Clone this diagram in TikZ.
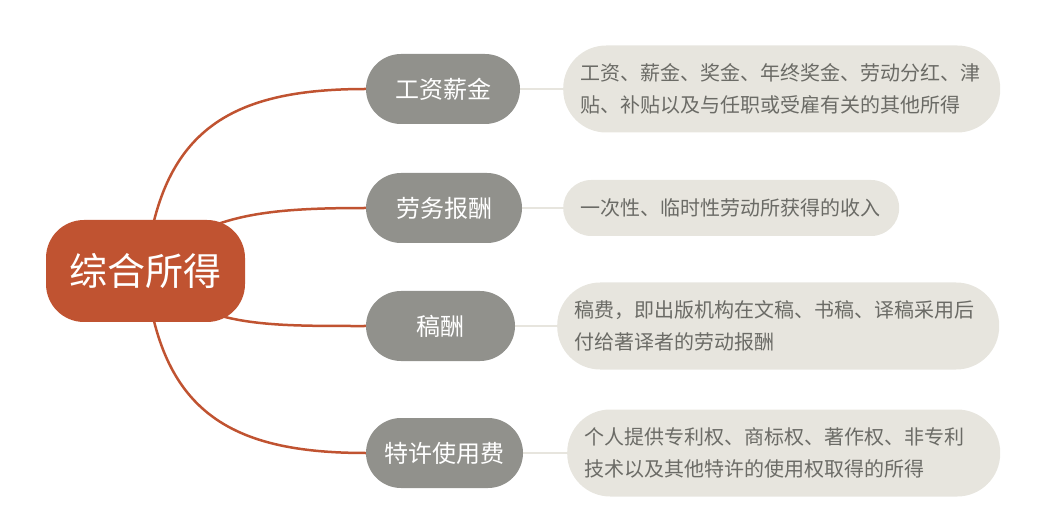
\documentclass[tikz,border=0pt]{standalone}
\usepackage{fontspec}
\setmainfont{Noto Sans CJK SC}
\usetikzlibrary{positioning, backgrounds}
\definecolor{crust}{HTML}{C05331}
\definecolor{cstone}{HTML}{91918C}
\definecolor{csand}{HTML}{E7E5DE}
\definecolor{cink}{HTML}{6B6B66}
\tikzset{
  hub/.style={fill=crust, text=white, rounded corners=38pt, minimum width=199pt, minimum height=102pt, font=\fontsize{38}{44}\selectfont},
  kind/.style={fill=cstone, text=white, rounded corners=35pt, minimum height=70pt, font=\fontsize{24}{28}\selectfont},
  detail/.style={fill=csand, text=cink, rounded corners=#1, align=left, inner xsep=17pt, minimum height=87pt, font=\fontsize{20}{32}\selectfont},
  detail/.default=43pt,
  branch/.style={draw=crust, line width=2.5pt},
  tie/.style={draw=csand, line width=2.5pt},
}

\begin{document}
\begin{tikzpicture}[x=1pt, y=-1pt]
  \useasboundingbox (0,0) rectangle (1038,526);
  \node[hub] (hub) at (145.5,271) {综合所得};
  \node[kind, minimum width=154pt] (wage) at (443,89) {工资薪金};
  \node[kind, minimum width=156pt] (labor) at (444,208) {劳务报酬};
  \node[kind, minimum width=149pt] (royalty) at (440.5,326) {稿酬};
  \node[kind, minimum width=157pt] (franchise) at (444.5,453) {特许使用费};
  \node[detail, anchor=west, text width=403pt] (wagenote) at (563,89) {工资、薪金、奖金、年终奖金、劳动分红、津\\贴、补贴以及与任职或受雇有关的其他所得};
  \node[detail=28pt, anchor=west, text width=302pt, minimum height=56pt] (labornote) at (563,208) {一次性、临时性劳动所获得的收入};
  \node[detail, anchor=west, text width=408pt] (royaltynote) at (557,326) {稿费，即出版机构在文稿、书稿、译稿采用后\\付给著译者的劳动报酬};
  \node[detail, anchor=west, text width=399pt] (franchisenote) at (567,453) {个人提供专利权、商标权、著作权、非专利\\技术以及其他特许的使用权取得的所得};
  \begin{scope}[on background layer]
    \draw[branch] (hub.center) .. controls (160,130) and (230,89) .. (wage.west);
    \draw[branch] (hub.center) .. controls (200,215) and (260,208) .. (labor.west);
    \draw[branch] (hub.center) .. controls (200,327) and (260,326) .. (royalty.west);
    \draw[branch] (hub.center) .. controls (160,412) and (230,453) .. (franchise.west);
    \draw[tie] (wage) -- (wagenote);
    \draw[tie] (labor) -- (labornote);
    \draw[tie] (royalty) -- (royaltynote);
    \draw[tie] (franchise) -- (franchisenote);
  \end{scope}
\end{tikzpicture}
\end{document}
